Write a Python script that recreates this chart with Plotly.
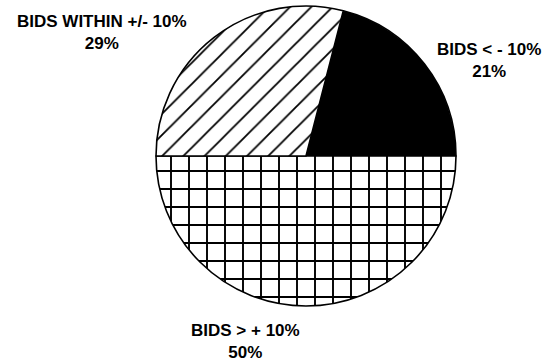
import plotly.graph_objects as go

labels = ["BIDS < - 10%", "BIDS > + 10%", "BIDS WITHIN +/- 10%"]
values = [21, 50, 29]
colors = ["black", "white", "white"]
patterns = ["", "+", "/"]

W, H = 546, 362
cx, cy, r = 306, 156, 150

fig = go.Figure(go.Pie(
    labels=labels,
    values=values,
    sort=False,
    direction="clockwise",
    rotation=90 - values[0] * 3.6,
    textinfo="none",
    textposition="none",
    hoverinfo="label+percent",
    showlegend=False,
    marker=dict(
        colors=colors,
        line=dict(color="black", width=1.6),
        pattern=dict(shape=patterns, fgcolor="black", bgcolor="white",
                     size=[8, 18, 15], solidity=[0.2, 0.2, 0.12]),
    ),
    domain=dict(x=[(cx - r) / W, (cx + r) / W],
                y=[(H - cy - r) / H, (H - cy + r) / H]),
))

label_pos = [(489, 60), (245, 341), (102, 32)]
font = dict(family="Liberation Sans, Arial, sans-serif", size=17, color="black")
for lab, val, (x, y) in zip(labels, values, label_pos):
    fig.add_annotation(
        x=x / W, y=1 - y / H, xref="paper", yref="paper",
        text=f"<b>{lab}<br>{val}%</b>", showarrow=False,
        font=font, align="center", xanchor="center", yanchor="middle",
    )

fig.update_layout(
    width=W, height=H,
    margin=dict(l=0, r=0, t=0, b=0),
    paper_bgcolor="white", plot_bgcolor="white",
)
fig.write_html("out.html", config={"displayModeBar": False},
               post_script="document.body.style.margin='0';")
